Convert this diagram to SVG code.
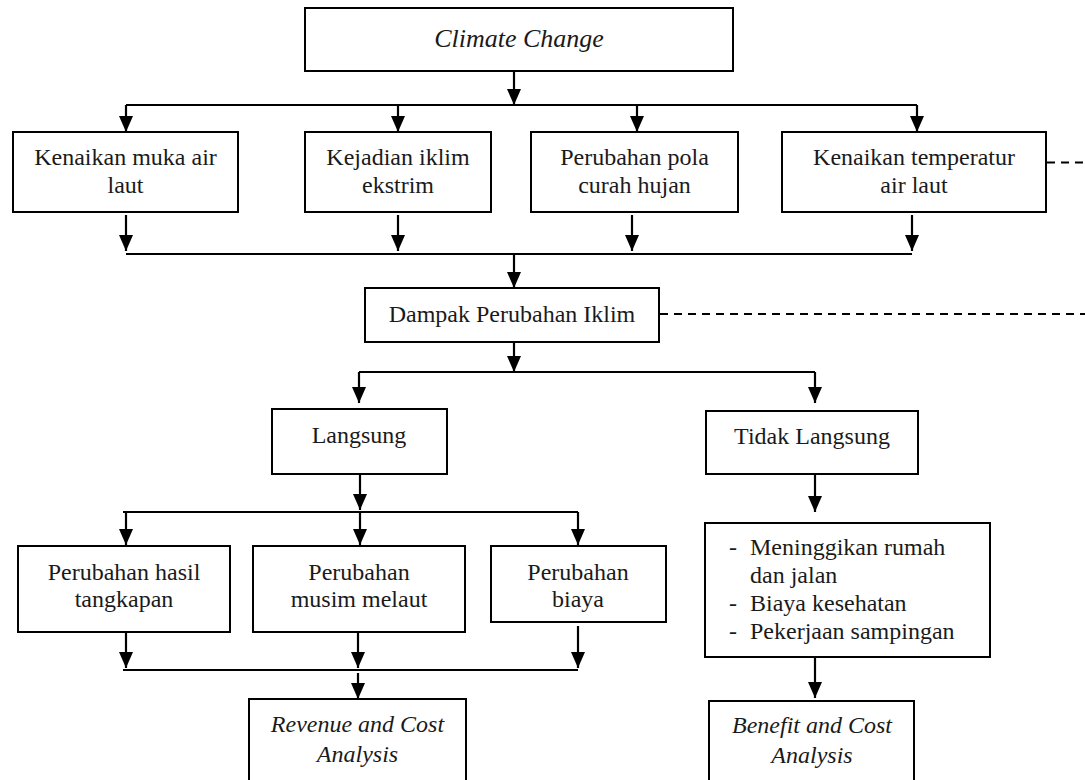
<svg xmlns="http://www.w3.org/2000/svg" width="1085" height="780" viewBox="0 0 1085 780">
<defs>
<marker id="ah" markerUnits="userSpaceOnUse" markerWidth="16" markerHeight="14" refX="16" refY="7" orient="auto">
<path d="M0,0 L16,7 L0,14 z" fill="#000"/>
</marker>
</defs>
<style>
.box{fill:#fff;stroke:#000;stroke-width:2}
.t{font-family:"Liberation Serif","Times New Roman",serif;font-size:24px;fill:#1a1a1a;text-anchor:middle}
.l{text-anchor:start}
.i{font-style:italic}
.c{stroke:#000;stroke-width:2.2;fill:none}
.a{marker-end:url(#ah)}
.d{stroke:#000;stroke-width:2;stroke-dasharray:8 6;fill:none}
</style>
<rect width="1085" height="780" fill="#fff"/>
<g id="connectors">
<path class="c a" d="M514,71 V105"/>
<path class="c" d="M126,105 H917"/>
<path class="c a" d="M126,105 V132"/>
<path class="c a" d="M398,105 V132"/>
<path class="c a" d="M637,105 V132"/>
<path class="c a" d="M917,105 V132"/>
<path class="c a" d="M126,215 V251"/>
<path class="c a" d="M398,215 V251"/>
<path class="c a" d="M632,215 V251"/>
<path class="c a" d="M912,215 V251"/>
<path class="c" d="M126,254 H912"/>
<path class="c a" d="M514,254 V288"/>
<path class="c a" d="M514,342 V372"/>
<path class="c" d="M359,372 H815"/>
<path class="c a" d="M359,372 V403"/>
<path class="c a" d="M815,372 V403"/>
<path class="c a" d="M360,474 V510"/>
<path class="c" d="M123,512 H578"/>
<path class="c a" d="M126,512 V545"/>
<path class="c a" d="M360,512 V545"/>
<path class="c a" d="M578,512 V545"/>
<path class="c a" d="M126,632 V668"/>
<path class="c a" d="M358,632 V668"/>
<path class="c a" d="M578,626 V668"/>
<path class="c" d="M123,670 H578"/>
<path class="c a" d="M358,673 V699"/>
<path class="c a" d="M815,474 V512"/>
<path class="c a" d="M815,657 V698"/>
<path class="d" d="M1047,162.5 H1085"/>
<path class="d" d="M660,314 H1085"/>
</g>
<g id="climate-change">
<rect class="box" x="305" y="8" width="428" height="63"/>
<text class="t i" x="519" y="47" style="font-size:26px">Climate Change</text>
</g>
<g id="kenaikan-muka-air-laut">
<rect class="box" x="13" y="132" width="225" height="80"/>
<text class="t" x="125.5" y="165">Kenaikan muka air</text>
<text class="t" x="125.5" y="193">laut</text>
</g>
<g id="kejadian-iklim-ekstrim">
<rect class="box" x="305" y="132" width="186" height="80"/>
<text class="t" x="398" y="165">Kejadian iklim</text>
<text class="t" x="398" y="193">ekstrim</text>
</g>
<g id="perubahan-pola-curah-hujan">
<rect class="box" x="531" y="132" width="207" height="80"/>
<text class="t" x="634.5" y="165">Perubahan pola</text>
<text class="t" x="634.5" y="193">curah hujan</text>
</g>
<g id="kenaikan-temperatur">
<rect class="box" x="782" y="132" width="264" height="80"/>
<text class="t" x="914" y="165">Kenaikan temperatur</text>
<text class="t" x="914" y="193">air laut</text>
</g>
<g id="dampak">
<rect class="box" x="365" y="288" width="294" height="54"/>
<text class="t" x="512" y="322">Dampak Perubahan Iklim</text>
</g>
<g id="langsung">
<rect class="box" x="272" y="409" width="175" height="65"/>
<text class="t" x="359" y="443">Langsung</text>
</g>
<g id="tidak-langsung">
<rect class="box" x="706" y="411" width="212" height="63"/>
<text class="t" x="812" y="444">Tidak Langsung</text>
</g>
<g id="perubahan-hasil-tangkapan">
<rect class="box" x="18" y="546" width="212" height="86"/>
<text class="t" x="124" y="580">Perubahan hasil</text>
<text class="t" x="124" y="607">tangkapan</text>
</g>
<g id="perubahan-musim-melaut">
<rect class="box" x="253" y="546" width="212" height="86"/>
<text class="t" x="359" y="580">Perubahan</text>
<text class="t" x="359" y="607">musim melaut</text>
</g>
<g id="perubahan-biaya">
<rect class="box" x="491" y="546" width="175" height="76"/>
<text class="t" x="578" y="580">Perubahan</text>
<text class="t" x="578" y="607">biaya</text>
</g>
<g id="revenue-cost">
<rect class="box" x="249" y="699" width="217" height="95"/>
<text class="t i" x="357.5" y="732">Revenue and Cost</text>
<text class="t i" x="357.5" y="762">Analysis</text>
</g>
<g id="indirect-list">
<rect class="box" x="705" y="523" width="285" height="134"/>
<text class="t l" x="729" y="555">-</text>
<text class="t l" x="750" y="555">Meninggikan rumah</text>
<text class="t l" x="750" y="583">dan jalan</text>
<text class="t l" x="729" y="611">-</text>
<text class="t l" x="750" y="611">Biaya kesehatan</text>
<text class="t l" x="729" y="639">-</text>
<text class="t l" x="750" y="639">Pekerjaan sampingan</text>
</g>
<g id="benefit-cost">
<rect class="box" x="709" y="701" width="205" height="95"/>
<text class="t i" x="812" y="733">Benefit and Cost</text>
<text class="t i" x="812" y="763">Analysis</text>
</g>
</svg>
